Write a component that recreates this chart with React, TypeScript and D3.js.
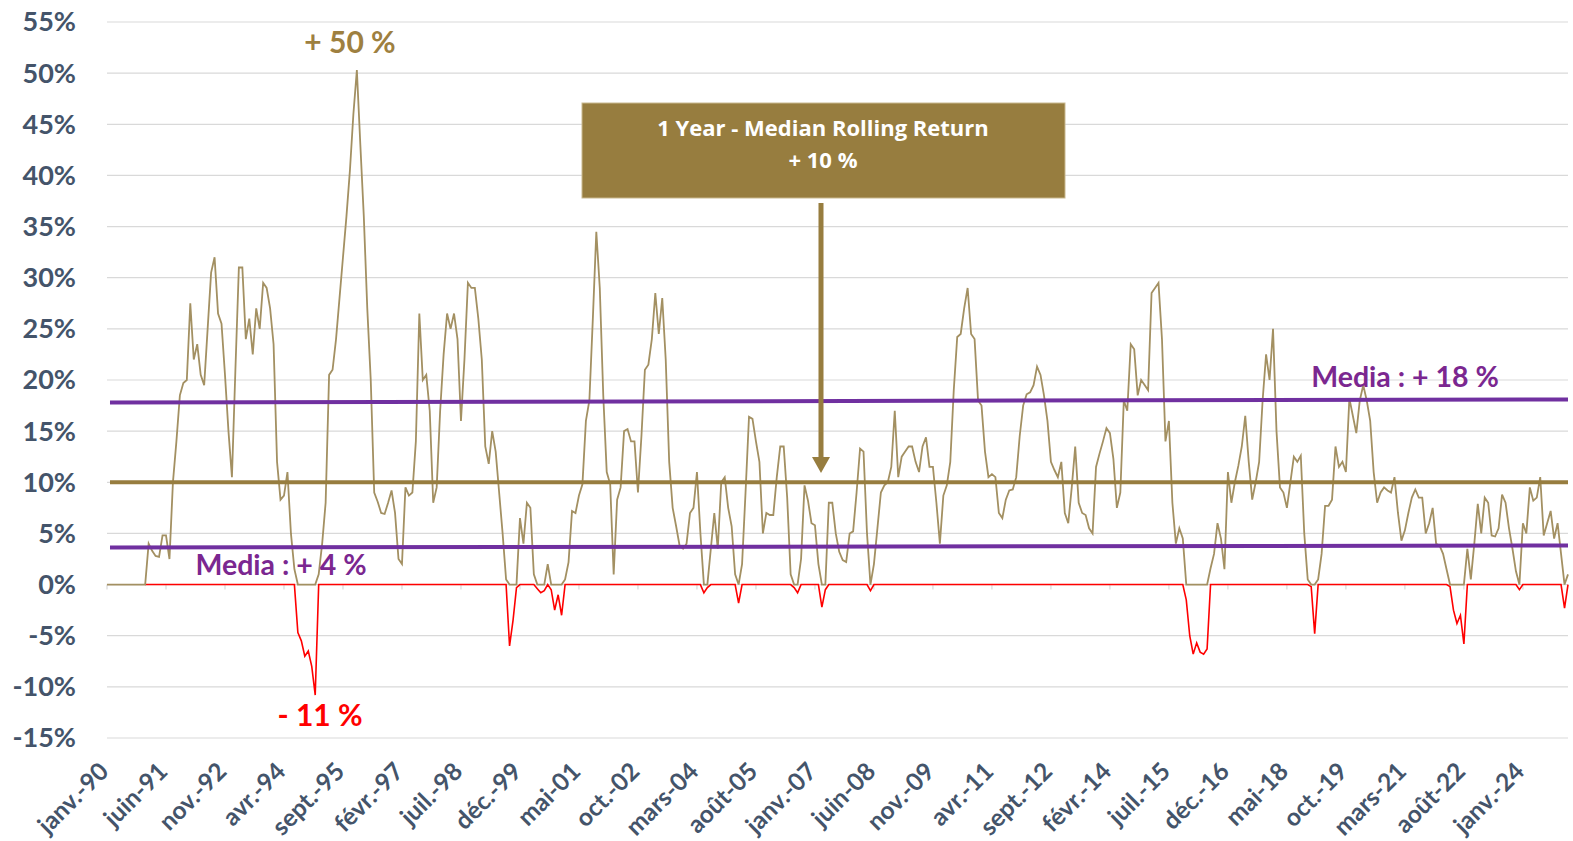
import React from "react";
import * as d3 from "d3";

// Monthly 1-year rolling return (%), janv.-1990 onwards, one array per year
const y1990 = [0, 0, 0, 0, 0, 0, 0, 0, 0, 0, 0, 0];
const y1991 = [4, 3.3, 2.8, 2.7, 4.8, 4.8, 2.5, 10, 14, 18.5, 19.7, 20];
const y1992 = [27.5, 22, 23.5, 20.5, 19.5, 25, 30.5, 32, 26.5, 25.5, 20.5, 15];
const y1993 = [10.5, 21, 31, 31, 24, 26, 22.5, 27, 25, 29.5, 29, 27];
const y1994 = [23.5, 12, 8.3, 8.7, 11, 5, 1.5, -4.7, -5.5, -7, -6.5, -8];
const y1995 = [-10.8, 1, 4, 8, 20.5, 21, 24, 28, 32, 36, 40.5, 46];
const y1996 = [50.3, 43, 36, 27, 20, 9, 8.1, 7, 6.9, 8, 9.2, 7];
const y1997 = [2.5, 2, 9.5, 8.7, 9, 14, 26.5, 20, 20.5, 17, 8, 9.5];
const y1998 = [17, 22.5, 26.5, 25, 26.5, 24, 16, 22, 29.5, 29, 29, 26];
const y1999 = [22, 13.5, 11.8, 15, 13, 9, 5, 0.5, -6, -3.5, -0.3, 6.5];
const y2000 = [4, 8, 7.5, 1, -0.4, -0.8, -0.6, 2, -0.5, -2.5, -1, -3];
const y2001 = [0.5, 2.2, 7.2, 7, 8.7, 9.8, 16, 18, 26, 34.5, 29, 18.5];
const y2002 = [11, 9.8, 1, 8.3, 9.5, 15, 15.2, 14, 14, 9, 14.5, 21];
const y2003 = [21.5, 24, 28.5, 24.5, 28, 22, 12, 7.5, 5.7, 3.8, 3.5, 4];
const y2004 = [7, 7.5, 11, 5, -0.8, -0.3, 3.5, 7, 3.5, 10, 10.5, 7.5];
const y2005 = [5.7, 1, -1.8, 2, 9, 16.4, 16.2, 14, 12, 5, 7, 6.8];
const y2006 = [6.8, 10.5, 13.5, 13.5, 8.5, 1, -0.3, -0.8, 2.5, 9.7, 8.2, 6];
const y2007 = [5.8, 2, -2.2, -0.5, 8, 8, 5, 3.2, 2.4, 2.2, 5, 5.2];
const y2008 = [9, 13.3, 13, 5, -0.6, 2, 5.5, 9, 9.7, 10, 11.5, 17];
const y2009 = [10.5, 12.5, 13, 13.5, 13.5, 12, 11, 13.5, 14.4, 11.5, 11.5, 8];
const y2010 = [4, 8.7, 9.7, 12, 19, 24.2, 24.5, 27, 29, 24.5, 24, 18];
const y2011 = [17.5, 13, 10.5, 10.8, 10.5, 7, 6.5, 8.3, 9.2, 9.3, 10.5, 14.5];
const y2012 = [17.5, 18.6, 18.8, 19.5, 21.3, 20.5, 18.5, 16, 12, 11.2, 10.5, 12];
const y2013 = [7, 6, 9.5, 13.5, 8, 7, 6.8, 5.5, 5, 11.5, 12.8, 14];
const y2014 = [15.3, 14.8, 12.3, 7.5, 9, 18, 17, 23.5, 23, 18.5, 20, 19.5];
const y2015 = [19, 28.5, 29, 29.5, 24, 14, 16, 8, 4, 5.5, 4.5, -1.5];
const y2016 = [-5, -6.8, -5.7, -6.6, -6.8, -6.3, 1.6, 3, 6, 4.5, 1.5, 11];
const y2017 = [8, 10, 11.6, 13.5, 16.5, 12, 8.3, 10, 12, 18, 22.5, 20];
const y2018 = [25, 15, 9.5, 9, 7.5, 10, 12.5, 12, 12.6, 5, 0.5, -0.2];
const y2019 = [-4.8, 0.5, 3, 7.7, 7.7, 8.3, 13.5, 11.5, 12, 11, 18.2, 16.5];
const y2020 = [14.8, 18, 19.5, 18, 16, 11, 8, 9, 9.5, 9.2, 9, 10.5];
const y2021 = [7, 4.3, 5.3, 7, 8.5, 9.3, 8.5, 8.5, 5, 6, 7.5, 4];
const y2022 = [3.8, 3, 1.5, -0.2, -2.5, -3.8, -3, -5.8, 3.5, 0.5, 4, 7.9];
const y2023 = [5, 8.5, 8, 4.8, 4.7, 5.5, 8.8, 8, 5.5, 3.5, 1.3, -0.5];
const y2024 = [6, 5, 9.5, 8.2, 8.5, 10.5, 4.8, 6, 7.2, 4.5, 6, 3];
const y2025 = [-2.3, 1];

const FIRST_VALID_MONTH = 11; // first 11 months have no rolling return yet

// Tick labels every 17 months from janv.-90
const xTickLabels = [
  "janv.-90", "juin-91", "nov.-92", "avr.-94", "sept.-95", "févr.-97", "juil.-98",
  "déc.-99", "mai-01", "oct.-02", "mars-04", "août-05", "janv.-07", "juin-08",
  "nov.-09", "avr.-11", "sept.-12", "févr.-14", "juil.-15", "déc.-16", "mai-18",
  "oct.-19", "mars-21", "août-22", "janv.-24",
];
const xTickStep = 17;
const yTicks = [-15, -10, -5, 0, 5, 10, 15, 20, 25, 30, 35, 40, 45, 50, 55];

const medianValue = 10;
const lowerBand = [3.62, 3.82];
const upperBand = [17.8, 18.1];

const series = [
  y1990, y1991, y1992, y1993, y1994, y1995, y1996, y1997, y1998, y1999, y2000,
  y2001, y2002, y2003, y2004, y2005, y2006, y2007, y2008, y2009, y2010, y2011,
  y2012, y2013, y2014, y2015, y2016, y2017, y2018, y2019, y2020, y2021, y2022,
  y2023, y2024, y2025,
].flat();

const W = 1573;
const H = 841;
const FONT = "Lato, 'Open Sans', sans-serif";
const BOX_FONT = "'Open Sans', Lato, sans-serif";
const AXIS_COLOR = "#44546A";
const GOLD = "#977D3F";
const LINE_GOLD = "#A39062";
const PURPLE = "#7030A0";
const PURPLE_TEXT = "#7B2790";

export default function App() {
  const x = d3.scaleLinear().domain([0, 421]).range([107, 1568]);
  const y = d3.scaleLinear().domain([-15, 55]).range([738, 22]);

  const pts = series.map((v, i) => ({ m: i, v }));
  const posLine = d3
    .line<{ m: number; v: number }>()
    .x((d) => x(d.m))
    .y((d) => y(Math.max(d.v, 0)));
  const negLine = d3
    .line<{ m: number; v: number }>()
    .x((d) => x(d.m))
    .y((d) => y(Math.min(d.v, 0)));

  const negPts = pts.filter((d) => d.m >= FIRST_VALID_MONTH);
  const xEnd = x(421);
  const xStart = x(0) + 3;

  return (
    <svg
      width={W}
      height={H}
      style={{ position: "absolute", left: 0, top: 0, background: "#fff" }}
      fontFamily={FONT}
    >
      {/* gridlines */}
      {yTicks.map((t) => (
        <line
          key={"g" + t}
          x1={x(0)}
          x2={xEnd}
          y1={y(t)}
          y2={y(t)}
          stroke="#D9D9D9"
          strokeWidth={1.2}
        />
      ))}
      {/* y labels */}
      {yTicks.map((t) => (
        <text
          key={"yl" + t}
          x={76}
          y={y(t)}
          dy="0.35em"
          textAnchor="end"
          fontSize={27}
          fontWeight={700}
          fill={AXIS_COLOR}
        >
          {t + "%"}
        </text>
      ))}
      {/* x ticks and labels */}
      {xTickLabels.map((lab, i) => {
        const xx = x(i * xTickStep);
        return (
          <g key={"xt" + i}>
            <line x1={xx} x2={xx} y1={y(0)} y2={y(0) + 5} stroke="#D9D9D9" strokeWidth={1.2} />
            <text
              transform={`translate(${xx + 3},${773}) rotate(-45)`}
              textAnchor="end"
              fontSize={24.5}
              fontWeight={700}
              fill={AXIS_COLOR}
            >
              {lab}
            </text>
          </g>
        );
      })}

      {/* data lines */}
      <path d={negLine(negPts) || ""} fill="none" stroke="#FF0000" strokeWidth={1.6} />
      <path d={posLine(pts) || ""} fill="none" stroke={LINE_GOLD} strokeWidth={1.8} />

      {/* reference lines */}
      <line x1={xStart} x2={xEnd} y1={y(medianValue)} y2={y(medianValue)} stroke={GOLD} strokeWidth={4} />
      <line x1={xStart} x2={xEnd} y1={y(lowerBand[0])} y2={y(lowerBand[1])} stroke={PURPLE} strokeWidth={4} />
      <line x1={xStart} x2={xEnd} y1={y(upperBand[0])} y2={y(upperBand[1])} stroke={PURPLE} strokeWidth={4} />

      {/* annotations */}
      <text x={350} y={42} dy="0.35em" textAnchor="middle" fontSize={30} fontWeight={700} fill="#9E8040">
        + 50 %
      </text>
      <text x={320} y={715} dy="0.35em" textAnchor="middle" fontSize={30} fontWeight={700} fill="#FF0000">
        - 11 %
      </text>
      <text x={281} y={565} dy="0.35em" textAnchor="middle" fontSize={28.5} fontWeight={700} fill={PURPLE_TEXT}>
        Media : + 4 %
      </text>
      <text x={1405} y={377} dy="0.35em" textAnchor="middle" fontSize={28.5} fontWeight={700} fill={PURPLE_TEXT}>
        Media : + 18 %
      </text>

      {/* median box */}
      <rect x={582} y={103} width={483} height={95} fill={GOLD} stroke="#C9B98F" strokeWidth={1} />
      <text x={823} y={128} dy="0.35em" textAnchor="middle" fontSize={22} fontWeight={700} fill="#fff" fontFamily={BOX_FONT}>
        1 Year - Median Rolling Return
      </text>
      <text x={823} y={160} dy="0.35em" textAnchor="middle" fontSize={22} fontWeight={700} fill="#fff" fontFamily={BOX_FONT}>
        + 10 %
      </text>
      {/* arrow */}
      <line x1={821} x2={821} y1={203} y2={458} stroke={GOLD} strokeWidth={5} />
      <path d="M812,457 L830,457 L821,473 Z" fill={GOLD} />
    </svg>
  );
}
